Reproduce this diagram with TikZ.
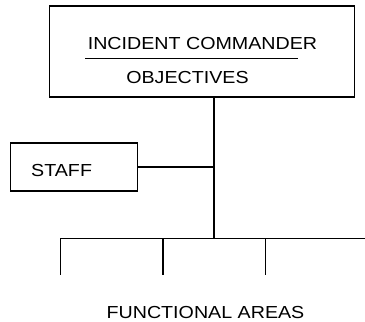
\documentclass[tikz,border=0pt]{standalone}
\usepackage{fontspec}
\setmainfont{Liberation Sans}[FakeStretch=1.13]
\begin{document}
\begin{tikzpicture}[x=1pt,y=-1pt,
  line/.style={line width=1.5pt,black},
  box/.style={draw,line width=1.4pt,rectangle,inner sep=0pt},
  lbl/.style={anchor=base,inner sep=0pt,font=\fontsize{17.4pt}{20pt}\selectfont}]
\useasboundingbox (0,0) rectangle (365,322);
% Incident commander box
\node[box,minimum width=305pt,minimum height=91pt] (ic) at (201.7,51.5) {};
\node[lbl] (ictext) at (202.5,49) {INCIDENT COMMANDER};
\coordinate (sepL) at (85,58.7);
\coordinate (sepR) at (297.7,58.7);
\draw[line] (sepL) -- (sepR);
\node[lbl] (obj) at (187.5,83.3) {OBJECTIVES};
% Staff box
\node[box,minimum width=127pt,minimum height=48pt] (staff) at (73.7,167) {};
\node[lbl,anchor=base west] (stafftext) at (31,176) {STAFF};
% connectors
\coordinate (top) at (214,97);
\coordinate (junc) at (214,167);
\coordinate (bus) at (214,238.3);
\coordinate (busL) at (60.3,238.3);
\coordinate (busR) at (365,238.3);
\coordinate (d1) at (60.3,275);
\coordinate (t2) at (163,238.3);
\coordinate (d2) at (163,275);
\coordinate (t3) at (265.3,238.3);
\coordinate (d3) at (265.3,275);
\draw[line] (ic.south -| top) -- (bus);
\draw[line] (staff.east) -- (junc);
\draw[line] (busR) -- (busL) -- (d1);
\draw[line] (t2) -- (d2);
\draw[line] (t3) -- (d3);
\node[lbl] (func) at (205.5,318.3) {FUNCTIONAL AREAS};
\end{tikzpicture}
\end{document}
